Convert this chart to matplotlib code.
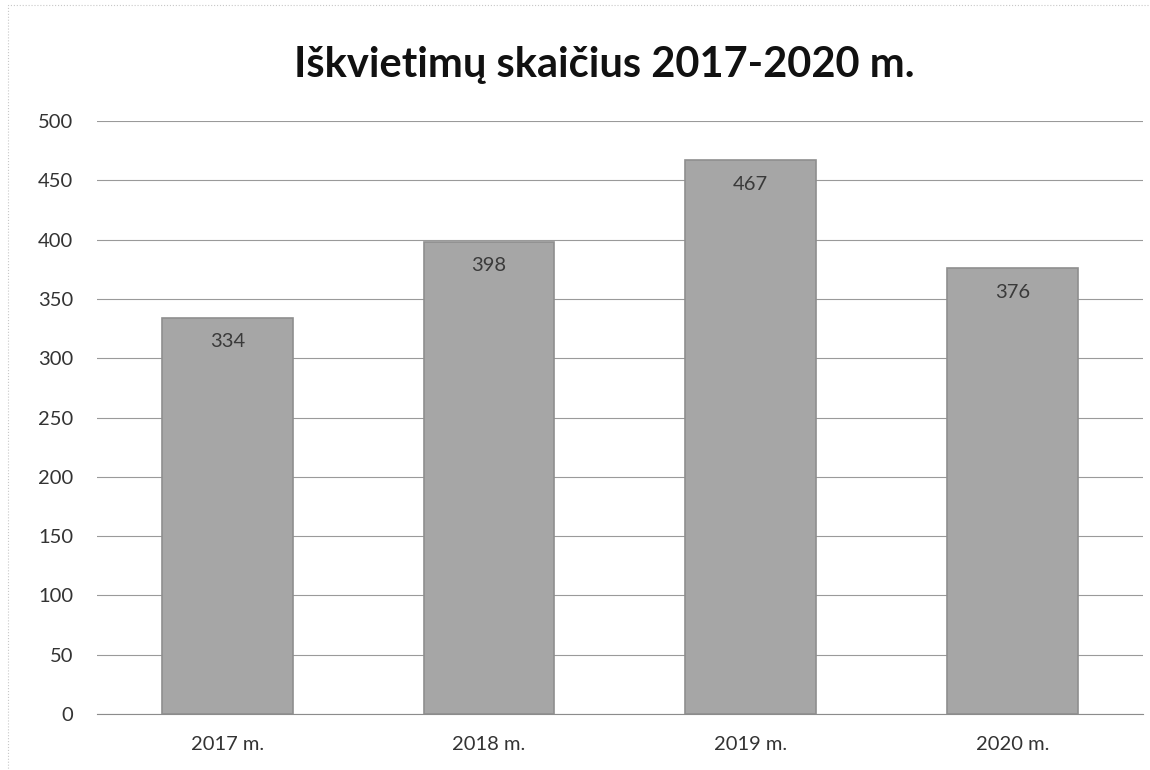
import matplotlib
matplotlib.use("Agg")
import matplotlib.pyplot as plt
from matplotlib.patches import Rectangle

# data
years = ["2017 m.", "2018 m.", "2019 m.", "2020 m."]
calls = [334, 398, 467, 376]
title = "Iškvietimų skaičius 2017-2020 m."

plt.rcParams['font.family'] = ['Lato', 'DejaVu Sans']

fig = plt.figure(figsize=(11.5, 7.7), dpi=100)
ax = fig.add_axes([0.084, 0.0727, 0.91, 0.770])

# faint frame of the scanned chart
fig.patches.append(Rectangle((0.007, -0.01), 1.0, 1.003, transform=fig.transFigure,
                             fill=False, edgecolor="#c8c8c8", lw=0.8, ls=":"))

bars = ax.bar(years, calls, width=0.5, color="#a6a6a6",
              edgecolor="#8f8f8f", linewidth=1.2, zorder=3)

for b, v in zip(bars, calls):
    ax.text(b.get_x() + b.get_width() / 2, v - 13, str(v),
            ha="center", va="top", fontsize=14.5, color="#3a3a3a", zorder=4)

ax.set_ylim(0, 500)
ax.set_xlim(-0.5, 3.5)
ax.set_yticks(range(0, 501, 50))
ax.yaxis.grid(True, color="#9a9a9a", lw=0.8, zorder=0)
ax.set_axisbelow(True)

for s in ["top", "right", "left"]:
    ax.spines[s].set_visible(False)
ax.spines["bottom"].set_color("#8c8c8c")
ax.tick_params(axis="both", length=0, labelsize=14.5, labelcolor="#333333")
ax.tick_params(axis="y", pad=17)
ax.tick_params(axis="x", pad=16)

fig.text(0.525, 0.916, title, ha="center", va="center",
         fontsize=30, fontweight="bold", color="#111111")

fig.savefig("out.png", dpi=100, facecolor="white")
